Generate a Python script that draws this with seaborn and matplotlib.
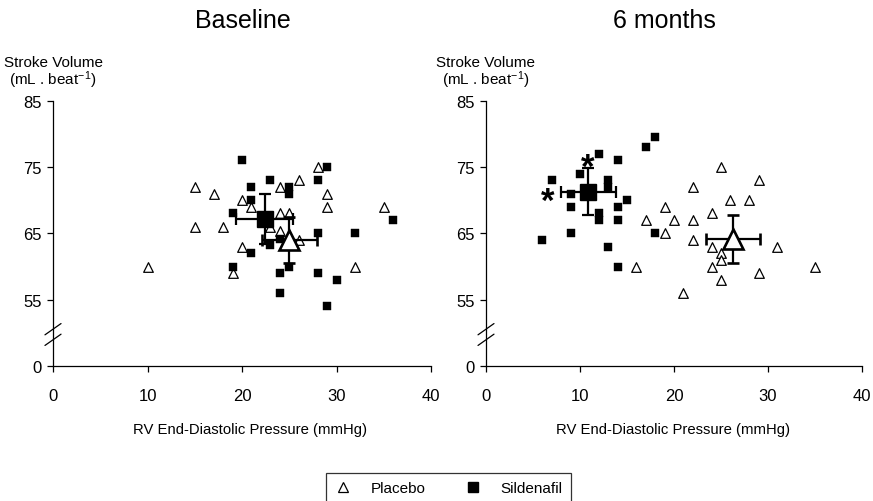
import matplotlib
matplotlib.use("Agg")
import matplotlib.pyplot as plt
import matplotlib.transforms as mtransforms
import seaborn as sns
import pandas as pd
from matplotlib.lines import Line2D

# ---------------- data ----------------
base_placebo_x = [10, 15, 17, 15, 18, 20, 21, 20, 19, 24, 26, 28, 29, 29, 24, 25, 23, 24, 26, 35, 32]
base_placebo_y = [60, 72, 71, 66, 66, 70, 69, 63, 59, 72, 73, 75, 71, 69, 68, 68, 66, 65.3, 64, 69, 60]
base_sil_x = [20, 21, 23, 25, 25, 21, 19, 28, 29, 36, 32, 28, 24, 23, 21, 19, 25, 24, 28, 30, 24, 29]
base_sil_y = [76, 72, 73, 72, 71, 70, 68, 73, 75, 67, 65, 65, 64.2, 63.2, 62, 60, 60, 59, 59, 58, 56, 54]

m6_placebo_x = [25, 29, 22, 26, 28, 19, 24, 17, 20, 22, 19, 22, 24, 25, 25, 24, 25, 29, 31, 35, 16, 21]
m6_placebo_y = [75, 73, 72, 70, 70, 69, 68, 67, 67, 67, 65, 64, 63, 62, 61, 60, 58, 59, 63, 60, 60, 56]
m6_sil_x = [18, 17, 12, 14, 10, 7, 13, 13, 9, 15, 9, 14, 12, 12, 14, 9, 6, 18, 13, 14]
m6_sil_y = [79.5, 78, 77, 76, 74, 73, 73, 72, 71, 70, 69, 69, 68, 67, 67, 65, 64, 65, 63, 60]

# group means with error (x, y, xerr, yerr)
base_placebo_mean = (25.0, 64.0, 2.9, 3.5)
base_sil_mean = (22.4, 67.2, 3.0, 3.75)
m6_placebo_mean = (26.3, 64.2, 2.9, 3.6)
m6_sil_mean = (10.9, 71.3, 2.9, 3.6)

# significance asterisks (6 months)
star_x = [10.8, 6.6]
star_y = [76.1, 70.9]

titles = ["Baseline", "6 months"]
xticks = [0, 10, 20, 30, 40]
yticks = [45, 55, 65, 75, 85]
ytick_labels = ["0", "55", "65", "75", "85"]
xlabel = "RV End-Diastolic Pressure (mmHg)"
ylabel1 = "Stroke Volume"
ylabel2 = "(mL . beat$^{-1}$)"
legend_labels = ["Placebo", "Sildenafil"]

# ---------------- style ----------------
sns.set_style("ticks")
plt.rcParams["font.family"] = ["Liberation Sans", "DejaVu Sans"]
plt.rcParams["mathtext.fontset"] = "custom"
plt.rcParams["mathtext.rm"] = "Liberation Sans"
plt.rcParams["mathtext.it"] = "Liberation Sans:italic"
plt.rcParams["mathtext.bf"] = "Liberation Sans:bold"
plt.rcParams["text.color"] = "black"
plt.rcParams["axes.labelcolor"] = "black"
plt.rcParams["xtick.color"] = "black"
plt.rcParams["ytick.color"] = "black"

W, H = 873, 502
fig = plt.figure(figsize=(W / 100, H / 100), dpi=100)


def px_axes(x0, x1, y_top, y_bot):
    return fig.add_axes([x0 / W, 1 - y_bot / H, (x1 - x0) / W, (y_bot - y_top) / H])


ax_l = px_axes(53, 431, 101.7, 367)
ax_r = px_axes(486, 862, 101.7, 367)

panels = [
    (ax_l, base_placebo_x, base_placebo_y, base_sil_x, base_sil_y, base_placebo_mean, base_sil_mean),
    (ax_r, m6_placebo_x, m6_placebo_y, m6_sil_x, m6_sil_y, m6_placebo_mean, m6_sil_mean),
]

for ax, px, py, sx, sy, pm, sm in panels:
    dp = pd.DataFrame({"x": px, "y": py})
    ds = pd.DataFrame({"x": sx, "y": sy})
    sns.scatterplot(data=dp, x="x", y="y", ax=ax, marker="^", s=48,
                    facecolor="white", edgecolor="black", linewidth=0.9,
                    clip_on=False, zorder=3)
    sns.scatterplot(data=ds, x="x", y="y", ax=ax, marker="s", s=36,
                    color="black", edgecolor="black", linewidth=0.3,
                    clip_on=False, zorder=3)
    # group means with error bars
    ax.errorbar(sm[0], sm[1], xerr=sm[2], yerr=sm[3], fmt="s", ms=12,
                mfc="black", mec="black", ecolor="black", elinewidth=1.6,
                capsize=4, capthick=1.6, zorder=5, clip_on=False)
    ax.errorbar(pm[0], pm[1], xerr=pm[2], yerr=pm[3], fmt="^", ms=15,
                mfc="white", mec="black", mew=1.9, ecolor="black", elinewidth=1.6,
                capsize=4, capthick=1.6, zorder=5, clip_on=False)

    ax.set_xlim(0, 40)
    ax.set_ylim(45, 85)
    ax.set_xticks(xticks)
    ax.set_xticklabels([str(t) for t in xticks])
    ax.set_yticks(yticks)
    ax.set_yticklabels(ytick_labels)
    ax.set_xlabel("")
    ax.set_ylabel("")
    sns.despine(ax=ax)
    for sp in ["left", "bottom"]:
        ax.spines[sp].set_linewidth(0.9)
        ax.spines[sp].set_color("black")
    ax.tick_params(axis="both", direction="out", length=4, width=0.9, color="black",
                   labelsize=12, labelcolor="black")
    ax.tick_params(axis="x", pad=12)
    ax.tick_params(axis="y", pad=4)
    # axis break marks
    for yb in (48.1, 49.7):
        ax.plot([-0.85, 0.85], [yb, yb + 1.7], color="black", lw=0.9, clip_on=False, zorder=6)

# asterisks
star_trans = mtransforms.offset_copy(ax_r.transData, fig=fig, y=-5.5, units="points")
for x, y in zip(star_x, star_y):
    ax_r.text(x, y, "*", fontsize=25, fontweight="bold", color="black", ha="center",
              va="center", transform=star_trans, zorder=7)

# titles / labels
fig.text(243 / W, 1 - 21 / H, titles[0], fontsize=18, ha="center", va="center", color="black")
fig.text(664 / W, 1 - 21 / H, titles[1], fontsize=18, ha="center", va="center", color="black")
for axx in (53, 486):
    fig.text(axx / W, 1 - 63 / H, ylabel1, fontsize=11, ha="center", va="center", color="black")
    fig.text(axx / W, 1 - 80 / H, ylabel2, fontsize=11, ha="center", va="center", color="black")
fig.text(250 / W, 1 - 430 / H, xlabel, fontsize=10.7, ha="center", va="center", color="black")
fig.text(673 / W, 1 - 430 / H, xlabel, fontsize=10.7, ha="center", va="center", color="black")

# legend
handles = [
    Line2D([], [], marker="^", ls="none", ms=7, mfc="white", mec="black", mew=0.9),
    Line2D([], [], marker="s", ls="none", ms=6.5, mfc="black", mec="black"),
]
leg = fig.legend(handles, legend_labels, loc="upper center", bbox_to_anchor=(448.5 / W, 1 - 474 / H),
                 ncol=2, frameon=True, fancybox=False, fontsize=11, handlelength=1.2,
                 handletextpad=1.2, columnspacing=2.5, borderpad=0.55, borderaxespad=0,
                 labelcolor="black")
leg.get_frame().set_edgecolor("black")
leg.get_frame().set_linewidth(0.9)

fig.savefig("out.png", dpi=100)
